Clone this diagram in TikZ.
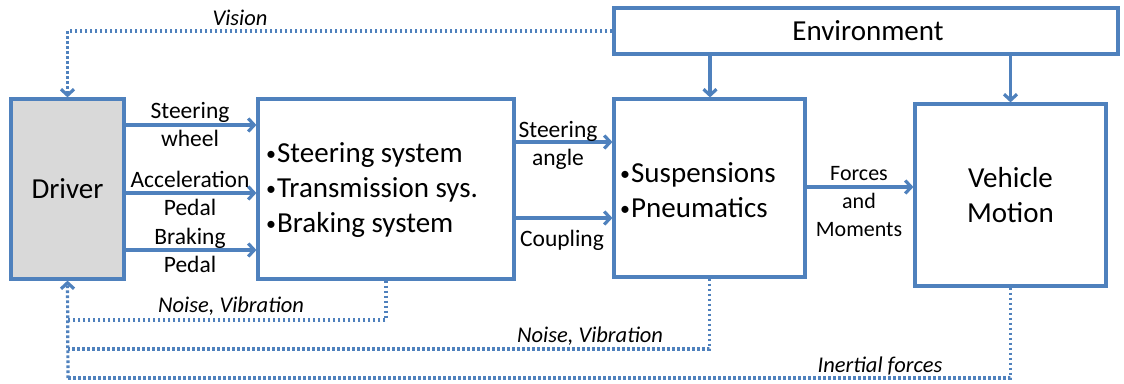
\documentclass[tikz,border=0pt]{standalone}
\usepackage{fontspec}
\setmainfont{Carlito}
\usetikzlibrary{arrows.meta}
\definecolor{blu}{HTML}{4F81BD}
\definecolor{drvgray}{HTML}{D9D9D9}
\newcommand\mybul{\raisebox{0.07em}{\fontsize{20}{20}\selectfont•}\hspace{1pt}}
\tikzset{
  blk/.style={draw=blu, line width=3.2pt, rectangle, inner sep=0pt},
  arr/.style={draw=blu, line width=3.2pt, -{Straight Barb[length=6pt,width=13pt]}},
  dot/.style={draw=blu, line width=3.2pt, dash pattern=on 2.6pt off 2.4pt},
  dotarr/.style={dot, -{Straight Barb[length=6pt,width=13pt]}},
  big/.style={font=\fontsize{29}{35}\selectfont, inner sep=0pt},
  lbl/.style={font=\fontsize{23.5}{28}\selectfont, inner sep=0pt, align=center},
  ital/.style={font=\fontsize{22.5}{26}\selectfont\itshape, inner sep=0pt},
}
\begin{document}
\begin{tikzpicture}[x=1pt,y=-1pt]
\useasboundingbox (0,0) rectangle (1124,383);
% boxes
\node[blk, fill=drvgray, minimum width=113pt, minimum height=180pt] (driver) at (67.5,189) {};
\node[big] (drivertxt) at (67.5,189) {Driver};
\node[blk, minimum width=256pt, minimum height=180pt] (system) at (386,189) {};
\node[big, anchor=west, align=left] (systxt) at (266,190) {\mybul Steering system\\\mybul Transmission sys.\\\mybul Braking system};
\node[blk, minimum width=191pt, minimum height=178pt] (susp) at (709.5,188) {};
\node[big, anchor=west, align=left] (susptxt) at (620,190) {\mybul Suspensions\\\mybul Pneumatics};
\node[blk, minimum width=191pt, minimum height=182pt] (veh) at (1010.5,195) {};
\node[big, align=center] (vehtxt) at (1010.5,195) {Vehicle\\Motion};
\node[blk, minimum width=504pt, minimum height=46pt] (env) at (866,31) {};
\node[big] (envtxt) at (868,31) {Environment};
% driver -> system
\draw[arr] (driver.east |- 0,125) -- (system.west |- 0,125);
\draw[arr] (driver.east |- 0,193) -- (system.west |- 0,193);
\draw[arr] (driver.east |- 0,250) -- (system.west |- 0,250);
\node[lbl] (l1) at (190,124) {Steering\\wheel};
\node[lbl] (l2) at (190,193) {Acceleration\\Pedal};
\node[lbl] (l3) at (190,250) {Braking\\Pedal};
% system -> suspension
\draw[arr] (system.east |- 0,142) -- (susp.west |- 0,142);
\draw[arr] (system.east |- 0,218) -- (susp.west |- 0,218);
\node[lbl] (l4) at (558,145) {Steering\\angle};
\node[lbl] (l5) at (562,240) {Coupling};
% suspension -> vehicle
\draw[arr] (susp.east |- 0,187) -- (veh.west |- 0,187);
\node[lbl, font=\fontsize{22}{28}\selectfont] (l6) at (859,202) {Forces\\and\\Moments};
% environment arrows
\draw[arr] (env.south -| 710,0) -- (susp.north -| 710,0);
\draw[arr] (env.south -| veh.north) -- (veh.north);
% vision
\draw[dotarr] (env.west) -| (driver.north);
\node[ital] (vis) at (240,18) {Vision};
% feedback
\coordinate (c1) at (68,320);
\coordinate (c2) at (68,349);
\coordinate (c3) at (68,378);
\draw[dot] (system.south) |- (c1);
\draw[dot] (susp.south) |- (c2);
\draw[dot] (veh.south) |- (c3);
\draw[dotarr] (c3) -- (driver.south);
\node[ital] (n1) at (231,306) {Noise, Vibration};
\node[ital] (n2) at (590,336) {Noise, Vibration};
\node[ital] (n3) at (880,366) {Inertial forces};
\end{tikzpicture}
\end{document}
